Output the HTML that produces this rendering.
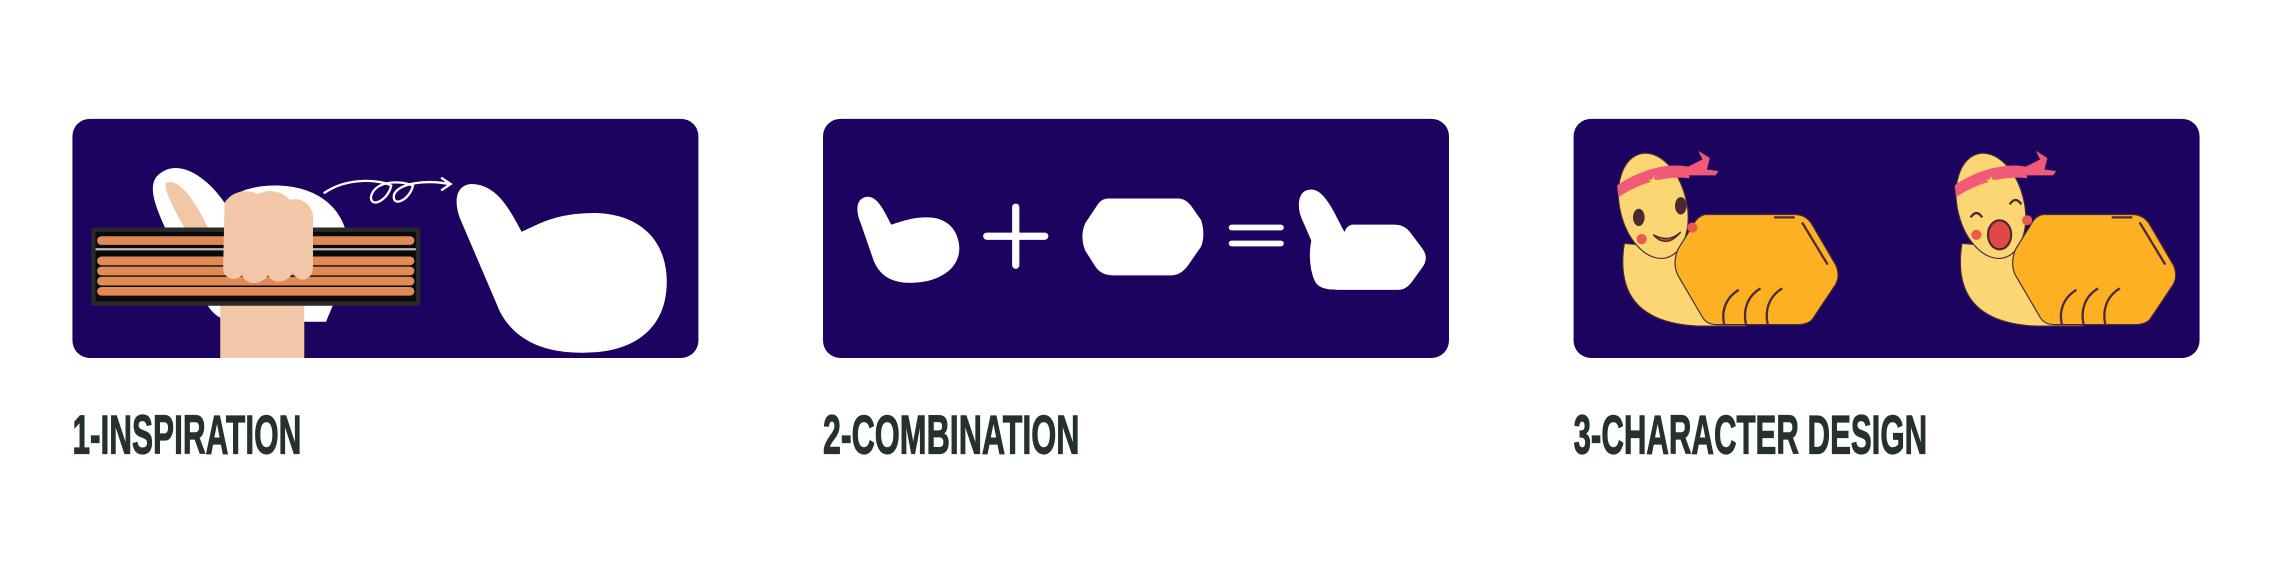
<!DOCTYPE html>
<html><head><meta charset="utf-8"><style>
html,body{margin:0;padding:0;background:#fff;}
svg{display:block;}
</style></head><body>
<svg width="2272" height="571" viewBox="0 0 1568 394" preserveAspectRatio="none" xmlns="http://www.w3.org/2000/svg">
<defs>
<clipPath id="c1"><rect x="50" y="82" width="432" height="165" rx="12"/></clipPath>
<g id="snail">
  <path d="M1121,168 C1116,200 1128,223 1172,225 L1205,225 L1172,172 Z" fill="#fcd672" stroke="#4a2a40" stroke-width="0.8"/>
  <ellipse cx="1141" cy="142" rx="23" ry="37" transform="rotate(-14 1141 142)" fill="#fcd672" stroke="#4a2a40" stroke-width="0.8"/>
  <path d="M1116,128 C1130,118 1150,112 1165,115 L1166,123 C1150,121 1132,126 1117,136 Z" fill="#f05a78"/>
  <path d="M1163,116 L1175,110 L1172,104 L1180,109 L1178,117 L1186,118 L1184,121 L1166,121 Z" fill="#f05a78"/>
  <text x="1137" y="128" font-size="9" fill="#f8e05a" font-family="DejaVu Sans">★</text>
  <path d="M1178,148 L1238,148 Q1246,148 1250,154 L1267,183 Q1270,190 1267,196 L1251,220 Q1248,224 1240,224 L1185,224 Q1178,224 1175,219 L1158,190 Q1154,182 1158,172 L1168,156 Q1172,148 1178,148 Z" fill="#fdb022" stroke="#4a2a40" stroke-width="0.8"/>
  <line x1="1244" y1="154" x2="1261" y2="182" stroke="#4a2a40" stroke-width="1.6" stroke-linecap="round"/>
  <line x1="1225" y1="150" x2="1238" y2="150" stroke="#4a2a40" stroke-width="1.6" stroke-linecap="round"/>
  <path d="M1200,200 C1190,206 1188,216 1190,224 M1215,199 C1205,205 1203,215 1205,224 M1230,199 C1220,205 1218,215 1220,224" fill="none" stroke="#4a2a40" stroke-width="1.6"/>
</g>
</defs>
<g>
<rect x="50" y="82" width="432" height="165" rx="12" fill="#1c0360"/>
<g clip-path="url(#c1)">
  <path d="M110,120 C100,128 108,145 120,170 L140,205 C145,215 150,220 160,222 L225,222 C232,205 242,185 240,165 C236,140 215,128 190,128 C175,128 162,132 155,140 C145,125 125,108 110,120 Z" fill="#fff"/>
  <rect x="152" y="205" width="58" height="45" fill="#f1c7a8"/>
  <path d="M115,126 C112,128 118,142 132,165 L145,160 C138,145 125,122 115,126 Z" fill="#f1c7a8"/>
</g>
<g>
  <rect x="63" y="157" width="227" height="54" rx="2" fill="#2a2a2a"/>
  <rect x="66" y="160" width="221" height="48" fill="#0a0a0a"/>
  <line x1="66" y1="172" x2="287" y2="172" stroke="#bbb" stroke-width="1.5"/>
  <g fill="#e08a55">
  <rect x="67" y="163" width="219" height="6" rx="3"/>
  <rect x="67" y="177" width="219" height="6" rx="3"/>
  <rect x="67" y="184" width="219" height="6" rx="3"/>
  <rect x="67" y="191" width="219" height="6" rx="3"/>
  <rect x="67" y="198" width="219" height="6" rx="3"/>
  </g>
</g>
<path d="M155,140 C160,132 170,130 178,134 C185,130 195,132 200,138 C208,136 214,140 216,148 L216,185 C215,195 205,195 202,188 C198,196 188,196 185,190 C180,197 170,197 167,190 C162,195 154,192 154,185 Z" fill="#f1c7a8"/>
<path d="M224,133 C240,122 262,124 270,128 C268,138 256,144 256,136 C258,125 275,124 285,128 C283,138 270,144 272,134 C276,126 295,124 310,127 M305,123 L311,127 L305,131" fill="none" stroke="#fff" stroke-width="1.6" stroke-linecap="round"/>
<path d="M325,127 C314,128 313,140 318,152 L345,215 C358,240 385,245 412,243 C445,240 462,220 460,190 C458,162 438,148 412,147 C385,147 375,153 360,160 C352,145 343,127 325,127 Z" fill="#fff"/>
</g>
<text x="50" y="313" font-family="Liberation Sans, sans-serif" font-weight="bold" font-size="38" fill="#263030" stroke="#263030" stroke-width="0.8" textLength="158" lengthAdjust="spacingAndGlyphs">1-INSPIRATION</text>
<g>
<rect x="568" y="82" width="432" height="165" rx="12" fill="#1c0360"/>
<path d="M597,136 C590,138 591,147 594,154 L603,180 C608,192 618,196 632,195 C650,194 663,184 662,170 C661,157 652,150 640,150 C630,150 625,152 615,155 C610,145 605,134 597,136 Z" fill="#fff"/>
<path d="M701,143 L701,183 M681,163 L721,163" stroke="#fff" stroke-width="5" stroke-linecap="round"/>
<path d="M765,137 L813,137 Q818,137 822,142 L829,152 Q832,162 829,170 L820,183 Q815,190 808,190 L768,190 Q760,190 756,184 L749,173 Q745,163 749,154 L757,142 Q760,137 765,137 Z" fill="#fff"/>
<path d="M850,157 L884,157 M850,168 L884,168" stroke="#fff" stroke-width="4" stroke-linecap="round"/>
<path d="M903,131 C896,132 895,142 898,150 L905,166 C903,175 904,188 908,195 C911,199 916,200 925,200 L965,200 Q970,200 974,195 L982,184 Q986,178 982,172 L973,160 Q969,155 962,155 L933,155 Q929,156 928,160 C922,150 914,128 903,131 Z" fill="#fff"/>
</g>
<text x="568" y="313" font-family="Liberation Sans, sans-serif" font-weight="bold" font-size="38" fill="#263030" stroke="#263030" stroke-width="0.8" textLength="177" lengthAdjust="spacingAndGlyphs">2-COMBINATION</text>
<g>
<rect x="1086" y="82" width="432" height="165" rx="12" fill="#1c0360"/>
<g>
  <use href="#snail"/>
  <ellipse cx="1131" cy="150" rx="4" ry="6" fill="#4a2a30"/>
  <ellipse cx="1160" cy="142" rx="4" ry="6" fill="#4a2a30"/>
  <circle cx="1133" cy="165" r="3.5" fill="#ea5a4a"/>
  <circle cx="1168" cy="157" r="3.5" fill="#ea5a4a"/>
  <path d="M1141,162 Q1150,172 1160,160 Q1152,168 1141,162 Z" fill="#e04848" stroke="#4a2a30" stroke-width="1"/>
</g>
<g transform="translate(233,0)">
  <use href="#snail"/>
  <path d="M1127,150 Q1131,144 1135,150 M1154,141 Q1158,135 1162,141" fill="none" stroke="#4a2a30" stroke-width="1.6"/>
  <circle cx="1131" cy="162" r="3.5" fill="#ea5a4a"/>
  <circle cx="1166" cy="152" r="3.5" fill="#ea5a4a"/>
  <ellipse cx="1147" cy="162" rx="8" ry="10" fill="#e04848" stroke="#4a2a30" stroke-width="1.5"/>
</g>
</g>
<text x="1086" y="313" font-family="Liberation Sans, sans-serif" font-weight="bold" font-size="38" fill="#263030" stroke="#263030" stroke-width="0.8" textLength="244" lengthAdjust="spacingAndGlyphs">3-CHARACTER DESIGN</text>
</svg>
</body></html>
